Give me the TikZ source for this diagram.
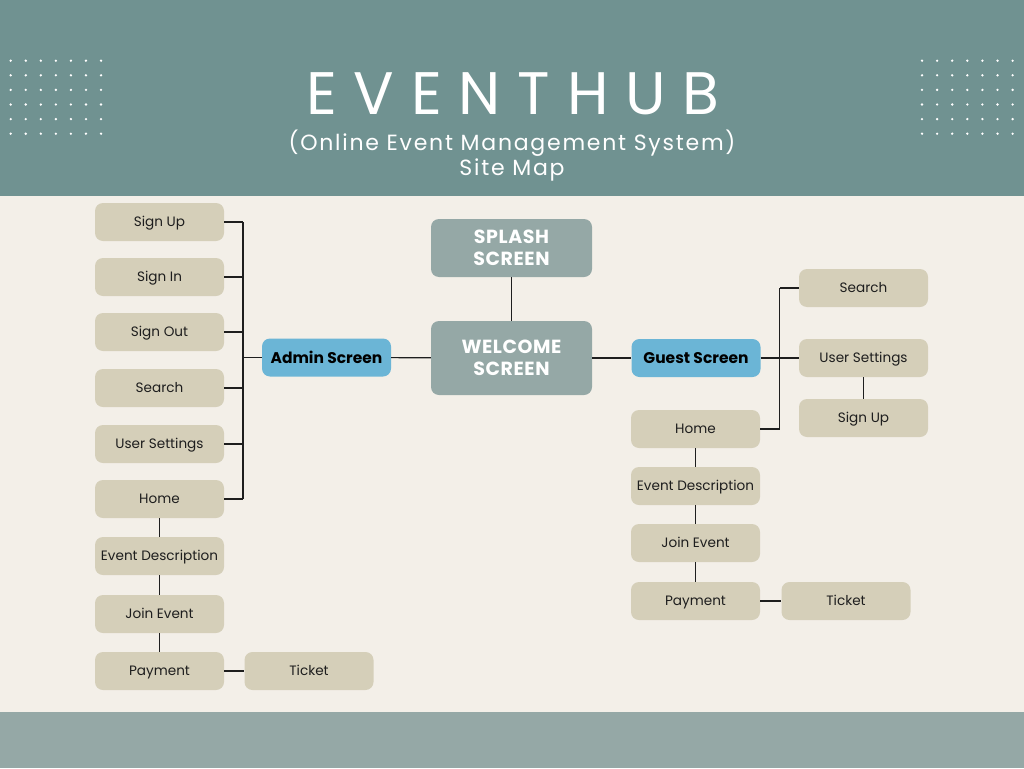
\documentclass[tikz,border=0pt]{standalone}
\usepackage{fontspec}
\setmainfont{Poppins}
\newfontfamily\titlefont[LetterSpace=28]{Poppins}
\newfontfamily\subfont[LetterSpace=8]{Poppins}
\newfontfamily\boxfont[LetterSpace=3]{Poppins}
\definecolor{bg}{HTML}{F3EFE8}
\definecolor{header}{HTML}{709291}
\definecolor{footer}{HTML}{95A8A6}
\definecolor{tan}{HTML}{D5CFB9}
\definecolor{bluebox}{HTML}{6BB5D6}
\definecolor{graybox}{HTML}{95A8A6}
\definecolor{ink}{HTML}{1E1E1E}
\tikzset{
  box/.style={rounded corners=8pt, inner sep=0pt, align=center},
  leaf/.style={box, fill=tan, minimum width=129pt, minimum height=38pt, text=ink, text height=9pt, text depth=0pt, font=\fontsize{13.6}{16}\selectfont},
  screen/.style={box, fill=bluebox, minimum width=129pt, minimum height=38pt, text=black, text height=11pt, text depth=0pt, font=\fontsize{15.5}{18}\selectfont\bfseries},
  main/.style={box, fill=graybox, minimum width=161pt, text=white, font=\boxfont\fontsize{19}{22}\selectfont\bfseries},
  link/.style={draw=ink, line width=1.1pt}
}
\begin{document}
\begin{tikzpicture}[x=1pt,y=-1pt]
\useasboundingbox (0,0) rectangle (1024,768);
\fill[bg] (0,0) rectangle (1024,768);
\fill[header] (0,0) rectangle (1024,196);
\fill[footer] (0,712) rectangle (1024,768);
\foreach \i in {0,...,6}{
  \foreach \j in {0,...,5}{
    \fill[white] (10.7+15.05*\i, 60.7+14.6*\j) circle[radius=1.3pt];
    \fill[white] (922+15.1*\i, 60.7+14.6*\j) circle[radius=1.3pt];
  }
}
\node[text=white, font=\titlefont\fontsize{60}{62}\selectfont] (title) at (513,94) {EVENTHUB};
\node[text=white, font=\subfont\fontsize{22}{25}\selectfont, align=center] (sub) at (512,155.5) {(Online Event Management System)\\Site Map};

% left column
\node[leaf] (lsu) at (159.5,222) {Sign Up};
\node[leaf] (lsi) at (159.5,277) {Sign In};
\node[leaf] (lso) at (159.5,332) {Sign Out};
\node[leaf] (lse) at (159.5,388) {Search};
\node[leaf] (lus) at (159.5,444) {User Settings};
\node[leaf] (lho) at (159.5,499) {Home};
\node[leaf] (led) at (159.5,556) {Event Description};
\node[leaf] (lje) at (159.5,614) {Join Event};
\node[leaf] (lpa) at (159.5,671) {Payment};
\node[leaf] (lti) at (309,671) {Ticket};
\node[screen] (adm) at (326.5,357.5) {Admin Screen};

% centre
\node[main, minimum height=58pt] (spl) at (511.5,248) {SPLASH\\SCREEN};
\node[main, minimum height=74pt] (wel) at (511.5,358) {WELCOME\\SCREEN};

% right
\node[screen] (gue) at (696,358) {Guest Screen};
\node[leaf] (rse) at (863.5,288) {Search};
\node[leaf] (rus) at (863.5,358) {User Settings};
\node[leaf] (rsu) at (863.5,418) {Sign Up};
\node[leaf] (rho) at (695.5,429) {Home};
\node[leaf] (red) at (695.5,486) {Event Description};
\node[leaf] (rje) at (695.5,543) {Join Event};
\node[leaf] (rpa) at (695.5,601) {Payment};
\node[leaf] (rti) at (846,601) {Ticket};

\coordinate (busL) at (243,0);
\coordinate (busR) at (779.5,0);

% left connectors
\foreach \n in {lsu,lsi,lso,lse,lus,lho}{
  \draw[link] (\n.east) -- (\n.east -| busL);
}
\draw[link] (lsu.east -| busL) -- (lho.east -| busL);
\draw[link] (adm.west) -- (adm.west -| busL);
\draw[link] (lho) -- (led);
\draw[link] (led) -- (lje);
\draw[link] (lje) -- (lpa);
\draw[link] (lpa) -- (lti);

% centre connectors
\draw[link] (adm) -- (wel);
\draw[link] (spl) -- (wel);
\draw[link] (wel) -- (gue);

% right connectors
\draw[link] (gue.east) -- (gue.east -| busR);
\draw[link] (rse.west) -- (rse.west -| busR);
\draw[link] (rus.west) -- (rus.west -| busR);
\draw[link] (rho.east) -- (rho.east -| busR);
\draw[link] (rse.west -| busR) -- (rho.east -| busR);
\draw[link] (rus) -- (rsu);
\draw[link] (rho) -- (red);
\draw[link] (red) -- (rje);
\draw[link] (rje) -- (rpa);
\draw[link] (rpa) -- (rti);
\end{tikzpicture}
\end{document}
